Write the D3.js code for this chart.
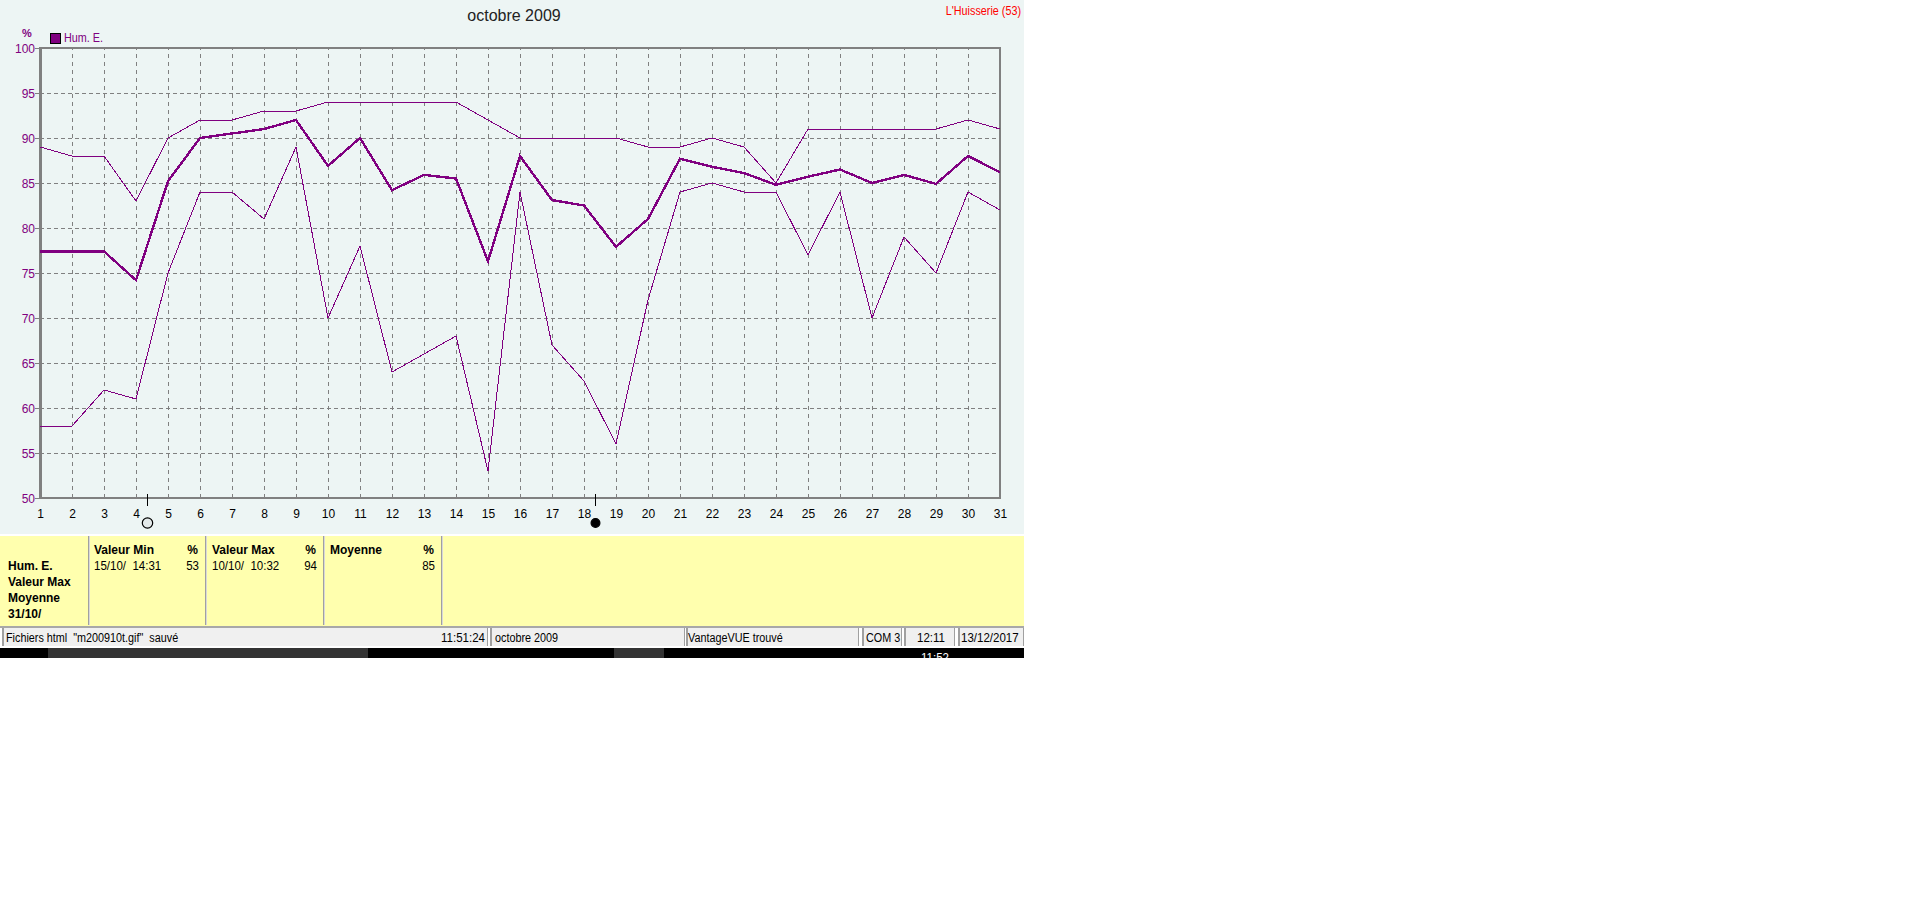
<!DOCTYPE html>
<html><head><meta charset="utf-8">
<script src="https://cdn.jsdelivr.net/npm/d3@7/dist/d3.min.js"></script>
<style>
html,body{margin:0;padding:0;background:#fff;overflow:hidden}
svg{display:block}
text{font-family:"Liberation Sans",Arial,sans-serif}
</style></head><body><svg id="c" width="1920" height="901"></svg>
<script>
const days = d3.range(1, 32);
const humMax = [89,88,88,83,90,92,92,93,93,94,94,94,94,94,92,90,90,90,90,89,89,90,89,85,91,91,91,91,91,92,91];
const humMin = [58,58,62,61,75,84,84,81,89,70,78,64,66,68,53,84,67,63,56,72,84,85,84,84,77,84,70,79,75,84,82];
const humAvg = [77.4,77.4,77.4,74.2,85.2,90,90.5,91,92,86.9,90,84.2,85.9,85.5,76.3,88,83.1,82.5,77.9,81,87.7,86.8,86.1,84.8,85.7,86.5,85,85.9,84.9,88,86.2];
const yTicks = [50,55,60,65,70,75,80,85,90,95,100];
const moons = [{day:4.34,fill:"#e4eaea"},{day:18.34,fill:"#000"}];
const statHeads = ["Valeur Min","Valeur Max","Moyenne"];
const statDates = ["15/10/  14:31","10/10/  10:32",""];
const statVals = ["53","94","85"];
const rowLabels = ["Hum. E.","Valeur Max","Moyenne","31/10/"];
const statusCells = [
 {x0:2,x1:488,t:'Fichiers html  "m200910t.gif"  sauvé',tx:6,right:"11:51:24"},
 {x0:490,x1:685,t:"octobre 2009",tx:495},
 {x0:686,x1:859,t:"VantageVUE trouvé",tx:688},
 {x0:862,x1:902,t:"COM 3",tx:866},
 {x0:904,x1:955,t:"12:11",tx:917},
 {x0:958,x1:1024,t:"13/12/2017",tx:961}];
const purple="#800080", gridc="#808080", bg="#edf5f4", yellow="#ffffae";

const svg=d3.select("#c");
const x=d3.scaleLinear().domain([1,31]).range([40,1000]);
const y=d3.scaleLinear().domain([50,100]).range([498,48]);
const R=(a,b,c,d,f)=>svg.append("rect").attr("x",a).attr("y",b).attr("width",c).attr("height",d).attr("fill",f).attr("shape-rendering","crispEdges");
const T=(s,a,b,o={})=>{
  const t=svg.append("text").text(s).attr("x",a).attr("y",b).attr("font-size",o.size||12)
  .attr("fill",o.fill||"#000").attr("text-anchor",o.anchor||"start").attr("font-weight",o.bold?"bold":"normal").style("white-space","pre");
  if(!o.bold&&!o.noSq&&s){
    const sq=/^[\d\/: ]+$/.test(s)?0.96:0.9;
    t.attr("textLength",t.node().getComputedTextLength()*sq).attr("lengthAdjust","spacingAndGlyphs");
  }
  return t;
};

R(0,0,1024,535,bg);
T("octobre 2009",514,21,{size:16,anchor:"middle",fill:"#222",noSq:true});
T("L'Huisserie (53)",1021,15,{fill:"#ff0000",anchor:"end"});
T("%",27,37,{fill:purple,anchor:"middle",size:11,bold:true});
R(50.5,33.5,10,10,purple).attr("stroke","#000").attr("stroke-width",1);
T("Hum. E.",64,42,{fill:purple});

// grid via axes
const gx=svg.append("g").attr("transform","translate(0,498)").call(d3.axisBottom(x).tickValues(days).tickSize(-450).tickFormat("").tickSizeOuter(0));
const gy=svg.append("g").attr("transform","translate(40,0)").call(d3.axisLeft(y).tickValues(yTicks).tickSize(-960).tickFormat("").tickSizeOuter(0));
[gx,gy].forEach(g=>{g.select(".domain").remove();g.selectAll("line").attr("stroke",gridc).attr("stroke-dasharray","4 3").attr("shape-rendering","crispEdges");});
gx.selectAll("line").attr("stroke-dasharray","4 4");
// frame
svg.append("rect").attr("x",40).attr("y",48).attr("width",960).attr("height",450).attr("fill","none").attr("stroke",gridc).attr("stroke-width",2).attr("shape-rendering","crispEdges");
R(39,48,3,451,gridc);

// labelled axes
const ax=svg.append("g").attr("transform","translate(0,498)").call(d3.axisBottom(x).tickValues(days).tickSize(0).tickPadding(11).tickFormat(d3.format("d")));
ax.select(".domain").remove();
ax.selectAll("text").attr("font-size",12).attr("fill","#000").attr("font-family","Liberation Sans");
const ay=svg.append("g").attr("transform","translate(35,1)").call(d3.axisLeft(y).tickValues(yTicks).tickSize(0).tickPadding(0).tickFormat(d3.format("d")));
ay.select(".domain").remove();
ay.selectAll("text").attr("font-size",12).attr("fill",purple).attr("font-family","Liberation Sans");

// left ticks
svg.append("g").selectAll("line").data(yTicks).join("line").attr("x1",35).attr("x2",40).attr("y1",d=>y(d)).attr("y2",d=>y(d)).attr("stroke",gridc).attr("shape-rendering","crispEdges");

// lines
const line=d3.line().x((d,i)=>x(days[i])).y(d=>y(d));
[[humMax,1],[humMin,1],[humAvg,2.4]].forEach(([s,w])=>{
  svg.append("path").attr("d",line(s)).attr("fill","none").attr("stroke",purple).attr("stroke-width",w).attr("stroke-linejoin","miter").attr("shape-rendering","crispEdges");
});

// moons
moons.forEach(m=>{
  const px=Math.round(x(m.day))+0.5;
  svg.append("line").attr("x1",px).attr("x2",px).attr("y1",494).attr("y2",506).attr("stroke","#000").attr("shape-rendering","crispEdges");
  svg.append("circle").attr("cx",px).attr("cy",523).attr("r",m.fill==="#000"?4.4:5.2).attr("fill",m.fill).attr("stroke","#000").attr("stroke-width",1.2);
});

// table
R(0,535,1024,91,yellow);
R(0,534,1024,2,"#ffffff");
const seps=[88,205,323,441];
seps.forEach(s=>{R(s,536,1,89,"#a0a0a0");R(s+1,536,1,89,"#d8d8d8");});
rowLabels.forEach((t,i)=>T(t,8,570+i*16,{bold:true,size:12}));
statHeads.forEach((h,i)=>{
  const l=[94,212,330][i], r=[199,317,435][i];
  T(h,l,554,{bold:true,size:12});
  T("%",r-1,554,{bold:true,size:12,anchor:"end"});
  T(statDates[i],l,570);
  T(statVals[i],r,570,{anchor:"end"});
});

// status bar
R(0,626,1024,22,"#ffffff");
R(0,626,1024,2,"#a8a8a8");
statusCells.forEach(c=>{
  R(c.x0,628,c.x1-c.x0,18,"#f0f0f0");
  R(c.x0,628,2,18,"#a0a0a0");
  R(c.x1-1,628,1,18,"#a0a0a0");
  T(c.t,c.tx,642);
  if(c.right)T(c.right,c.x1-3,642,{anchor:"end"});
});

// black task bar
R(0,648,1024,10,"#000");
R(48,648,320,10,"#333");
R(614,648,50,10,"#333");
svg.append("clipPath").attr("id","bar").append("rect").attr("x",0).attr("y",648).attr("width",1024).attr("height",10);
T("11:52",921,662,{fill:"#fff"}).attr("clip-path","url(#bar)");
</script></body></html>
